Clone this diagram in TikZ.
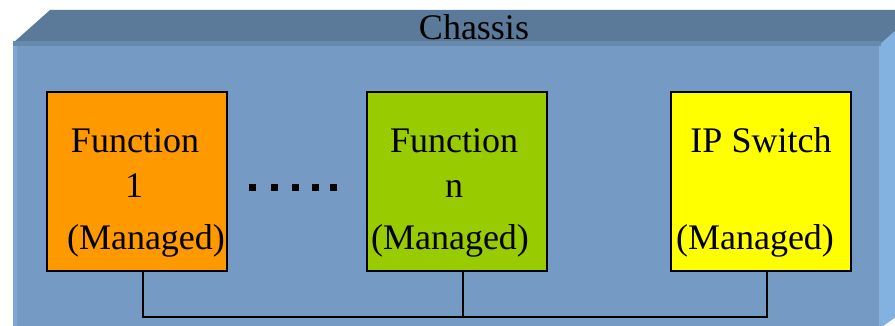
\documentclass[tikz,border=0pt]{standalone}
\usepackage{fontspec}
\setmainfont{Liberation Serif}
\definecolor{frontface}{HTML}{759BC5}
\definecolor{topface}{HTML}{5B7A99}
\definecolor{topband}{HTML}{6689AE}
\definecolor{sideface}{HTML}{84B2E0}
\definecolor{leftedge}{HTML}{7EA8D6}
\definecolor{fnorange}{HTML}{FF9900}
\definecolor{fngreen}{HTML}{99CC00}
\definecolor{swyellow}{HTML}{FFFF00}
\tikzset{
  unit/.style={draw=black, line width=2pt, rectangle, inner sep=0pt,
    minimum width=180pt, minimum height=179pt},
  lbl/.style={anchor=base, inner sep=0pt, font=\fontsize{36}{43}\selectfont},
  wire/.style={draw=black, line width=2pt},
  dotmark/.style={fill=black, draw=none}
}
\begin{document}
\begin{tikzpicture}[x=1pt, y=-1pt]
  \useasboundingbox (0,0) rectangle (895,326);
  \begin{scope}
    \clip (0,0) rectangle (895,326);
    % chassis box: top, side and front faces
    \fill[topface] (13,43) -- (50,10) -- (920,10) -- (880,45) -- cycle;
    \fill[sideface] (879,45) -- (920,9) -- (920,300) -- (879,329) -- cycle;
    \fill[frontface] (13,43) rectangle (879,329);
    \fill[topband] (13,41) rectangle (881,46);
    \fill[leftedge] (13,46) rectangle (17,329);
  \end{scope}
  \node[lbl] (title) at (474,40) {Chassis};

  % managed units
  \node[unit, fill=fnorange] (f1) at (137,181.5) {};
  \node[unit, fill=fngreen]  (fn) at (456.5,181.5) {};
  \node[unit, fill=swyellow] (sw) at (760.5,181.5) {};

  \node[lbl] (f1a) at (135,153) {Function};
  \node[lbl] (f1b) at (134,198) {1};
  \node[lbl] (f1c) at (146,250) {(Managed)};

  \node[lbl] (fna) at (454,153) {Function};
  \node[lbl] (fnb) at (454,198) {n};
  \node[lbl] (fnc) at (450,250) {(Managed)};

  \node[lbl] (swa) at (761,153) {IP Switch};
  \node[lbl] (swc) at (755,250) {(Managed)};

  % ellipsis between the function units
  \foreach \cx in {252,274,295,315,333}
    \fill[dotmark] (\cx-3.5,184.5) rectangle (\cx+3.5,191.5);

  % shared bus
  \draw[wire] ([xshift=6pt]f1.south) -- ++(0,45) -| ([xshift=6pt]sw.south);
  \draw[wire] ([xshift=6pt]fn.south) -- ++(0,45);
\end{tikzpicture}
\end{document}
